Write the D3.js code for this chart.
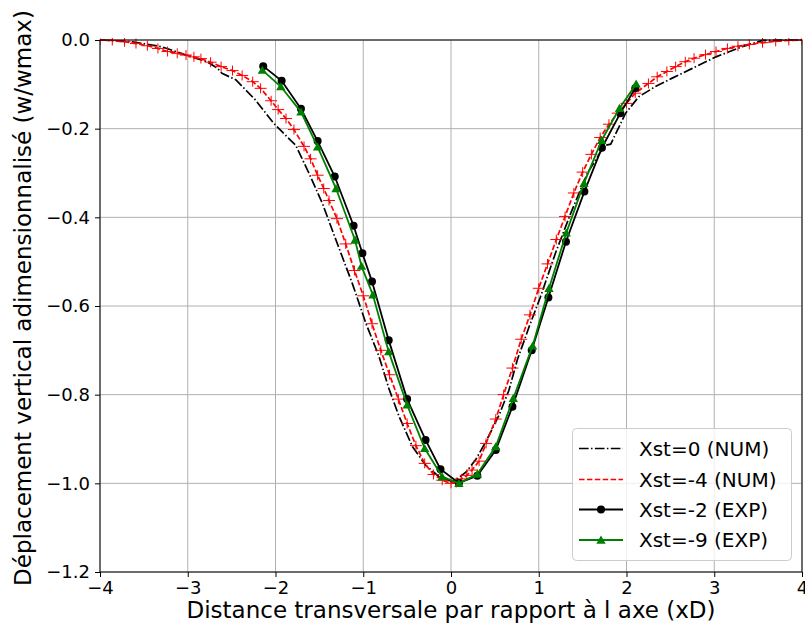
<!DOCTYPE html>
<html>
<head>
<meta charset="utf-8">
<script src="https://cdn.jsdelivr.net/npm/d3@7"></script>
<style>
  body { margin: 0; background: #fff; }
  svg { display: block; font-family: "DejaVu Sans", sans-serif; }
</style>
</head>
<body>
<svg id="chart" width="805" height="632"></svg>
<script>
// ---- data ----
const xTicks = [-4, -3, -2, -1, 0, 1, 2, 3, 4];
const yTicks = [0, -0.2, -0.4, -0.6, -0.8, -1.0, -1.2];

const num0X = [-4, -3.63, -3.3, -3.02, -2.78, -2.66, -2.61, -2.45, -2.23, -2.02, -1.83, -1.77, -1.62, -1.467, -1.296, -1.125, -0.97, -0.82, -0.71, -0.59, -0.44, -0.29, -0.137, 0.0, 0.05, 0.17, 0.28, 0.40, 0.55, 0.66, 0.755, 0.89, 1.02, 1.19, 1.364, 1.553, 1.75, 1.82, 1.99, 2.14, 2.33, 2.52, 2.75, 3.02, 3.32, 3.55, 4.0];
const num0Y = [0, -0.004, -0.015, -0.034, -0.049, -0.064, -0.075, -0.09, -0.135, -0.188, -0.226, -0.237, -0.30, -0.368, -0.459, -0.549, -0.639, -0.714, -0.785, -0.85, -0.917, -0.959, -0.985, -0.995, -0.993, -0.975, -0.947, -0.905, -0.845, -0.79, -0.722, -0.647, -0.579, -0.481, -0.391, -0.301, -0.238, -0.235, -0.165, -0.128, -0.105, -0.086, -0.064, -0.038, -0.015, -0.001, 0];

const num4X = [-4, -3.86, -3.72, -3.59, -3.46, -3.34, -3.23, -3.12, -3.02, -2.93, -2.85, -2.74, -2.62, -2.49, -2.38, -2.26, -2.17, -2.05, -1.97, -1.88, -1.79, -1.675, -1.6, -1.52, -1.45, -1.39, -1.3, -1.2, -1.1, -1.0, -0.9, -0.8, -0.7, -0.6, -0.5, -0.4, -0.3, -0.2, -0.1, 0.0, 0.06, 0.12, 0.18, 0.24, 0.32, 0.40, 0.51, 0.6, 0.7, 0.8, 0.9, 1.0, 1.1, 1.2, 1.3, 1.4, 1.5, 1.6, 1.7, 1.8, 1.9, 2.0, 2.1, 2.25, 2.35, 2.46, 2.56, 2.67, 2.77, 2.9, 3.02, 3.15, 3.27, 3.4, 3.55, 3.7, 3.85, 4.0];
const num4Y = [0, -0.001, -0.004, -0.008, -0.013, -0.019, -0.026, -0.030, -0.034, -0.038, -0.042, -0.050, -0.060, -0.069, -0.080, -0.094, -0.109, -0.137, -0.157, -0.177, -0.202, -0.240, -0.268, -0.305, -0.335, -0.362, -0.403, -0.46, -0.52, -0.577, -0.64, -0.70, -0.755, -0.81, -0.865, -0.915, -0.955, -0.98, -0.993, -1.0, -0.998, -0.99, -0.982, -0.97, -0.95, -0.91, -0.855, -0.80, -0.74, -0.675, -0.62, -0.56, -0.505, -0.45, -0.398, -0.345, -0.298, -0.258, -0.22, -0.19, -0.165, -0.143, -0.12, -0.098, -0.083, -0.071, -0.060, -0.049, -0.041, -0.033, -0.026, -0.019, -0.014, -0.010, -0.006, -0.003, -0.001, 0];

const exp2X = [-2.14, -1.93, -1.71, -1.52, -1.325, -1.11, -1.01, -0.90, -0.71, -0.50, -0.29, -0.12, 0.09, 0.30, 0.51, 0.70, 0.92, 1.11, 1.31, 1.52, 1.72, 1.93, 2.10];
const exp2Y = [-0.059, -0.092, -0.155, -0.228, -0.308, -0.419, -0.481, -0.545, -0.677, -0.81, -0.902, -0.968, -0.999, -0.983, -0.925, -0.827, -0.70, -0.581, -0.455, -0.342, -0.243, -0.165, -0.109];

const exp9X = [-2.15, -1.94, -1.71, -1.52, -1.31, -1.094, -1.02, -0.89, -0.71, -0.50, -0.30, -0.10, 0.09, 0.30, 0.51, 0.71, 0.93, 1.117, 1.314, 1.516, 1.717, 1.92, 2.11];
const exp9Y = [-0.068, -0.105, -0.162, -0.241, -0.335, -0.451, -0.51, -0.575, -0.703, -0.823, -0.921, -0.985, -1.0, -0.979, -0.917, -0.808, -0.69, -0.56, -0.435, -0.323, -0.226, -0.154, -0.099];

const seriesNames = ["Xst=0 (NUM)", "Xst=-4 (NUM)", "Xst=-2 (EXP)", "Xst=-9 (EXP)"];

// ---- layout ----
const svg = d3.select("#chart");
const L = 100, R = 802, T = 40, B = 572;
const x = d3.scaleLinear().domain([-4, 4]).range([L, R]);
const y = d3.scaleLinear().domain([-1.2, 0]).range([B, T]);

const zip = (xs, ys) => xs.map((v, i) => [v, ys[i]]);
const line = d3.line().x(d => x(d[0])).y(d => y(d[1]));

svg.append("defs").append("clipPath").attr("id", "clip")
  .append("rect").attr("x", L).attr("y", T - 2).attr("width", R - L).attr("height", B - T + 2);

// grid
const grid = svg.append("g");
grid.selectAll("line.gx").data(xTicks).join("line")
  .attr("x1", d => x(d)).attr("x2", d => x(d)).attr("y1", T).attr("y2", B)
  .attr("stroke", "#b0b0b0").attr("stroke-width", 1);
grid.selectAll("line.gy").data(yTicks).join("line")
  .attr("y1", d => y(d)).attr("y2", d => y(d)).attr("x1", L).attr("x2", R)
  .attr("stroke", "#b0b0b0").attr("stroke-width", 1);

// axes
const fmtY = d => d3.format(".1f")(d).replace("-", "\u2212");
const fmtX = d => String(d).replace("-", "\u2212");
const xAxis = svg.append("g").attr("transform", `translate(0,${B})`)
  .call(d3.axisBottom(x).tickValues(xTicks).tickFormat(fmtX).tickSize(5).tickPadding(4));
const yAxis = svg.append("g").attr("transform", `translate(${L},0)`)
  .call(d3.axisLeft(y).tickValues(yTicks).tickFormat(fmtY).tickSize(5).tickPadding(5));
[xAxis, yAxis].forEach(a => {
  a.select(".domain").remove();
  a.selectAll("text").attr("font-size", 18).attr("fill", "#000").attr("font-family", "DejaVu Sans");
  a.selectAll("line").attr("stroke", "#000").attr("stroke-width", 1);
});

// data lines
const plot = svg.append("g").attr("clip-path", "url(#clip)");
plot.append("path").datum(zip(num0X, num0Y)).attr("d", line)
  .attr("fill", "none").attr("stroke", "#000").attr("stroke-width", 1.7)
  .attr("stroke-dasharray", "9.6,2.4,1.5,2.4");

const num4 = zip(num4X, num4Y);
plot.append("path").datum(num4).attr("d", line)
  .attr("fill", "none").attr("stroke", "#ff0000").attr("stroke-width", 1.7)
  .attr("stroke-dasharray", "5.5,2.4");
plot.selectAll("path.plus").data(num4).join("path")
  .attr("d", d => `M${x(d[0]) - 6},${y(d[1])}H${x(d[0]) + 6}M${x(d[0])},${y(d[1]) - 5}V${y(d[1]) + 5}`)
  .attr("stroke", "#ff0000").attr("stroke-width", 1).attr("fill", "none");

const e2 = zip(exp2X, exp2Y);
plot.append("path").datum(e2).attr("d", line)
  .attr("fill", "none").attr("stroke", "#000").attr("stroke-width", 1.8);
plot.selectAll("circle.e2").data(e2).join("circle")
  .attr("cx", d => x(d[0])).attr("cy", d => y(d[1])).attr("r", 4).attr("fill", "#000");

const e9 = zip(exp9X, exp9Y);
const tri = d3.symbol().type(d3.symbolTriangle).size(38);
plot.append("path").datum(e9).attr("d", line)
  .attr("fill", "none").attr("stroke", "#008000").attr("stroke-width", 1.8);
plot.selectAll("path.e9").data(e9).join("path")
  .attr("d", tri).attr("transform", d => `translate(${x(d[0])},${y(d[1]) + 1})`).attr("fill", "#008000");

// frame
svg.append("rect").attr("x", L).attr("y", T).attr("width", R - L).attr("height", B - T)
  .attr("fill", "none").attr("stroke", "#000").attr("stroke-width", 1);

// axis labels
svg.append("text").attr("x", 451).attr("y", 618).attr("text-anchor", "middle")
  .attr("font-size", 23).text("Distance transversale par rapport à l axe (xD)");
svg.append("text").attr("transform", `translate(31,298) rotate(-90)`)
  .attr("text-anchor", "middle").attr("font-size", 23)
  .text("Déplacement vertical adimensionnalisé (w/wmax)");

// legend
const lg = svg.append("g");
lg.append("rect").attr("x", 572.5).attr("y", 428.5).attr("width", 219).attr("height", 132)
  .attr("rx", 4).attr("fill", "#fff").attr("fill-opacity", 0.8).attr("stroke", "#cccccc");
const rowsY = [448.5, 479.5, 509.5, 540];
const lx1 = 579, lx2 = 623;
lg.append("line").attr("x1", lx1).attr("x2", lx2).attr("y1", rowsY[0]).attr("y2", rowsY[0])
  .attr("stroke", "#000").attr("stroke-width", 1.7).attr("stroke-dasharray", "9.6,2.4,1.5,2.4");
lg.append("line").attr("x1", lx1).attr("x2", lx2).attr("y1", rowsY[1]).attr("y2", rowsY[1])
  .attr("stroke", "#ff0000").attr("stroke-width", 1.7).attr("stroke-dasharray", "5.5,2.4");
lg.append("line").attr("x1", lx1).attr("x2", lx2).attr("y1", rowsY[2]).attr("y2", rowsY[2])
  .attr("stroke", "#000").attr("stroke-width", 1.8);
lg.append("circle").attr("cx", (lx1 + lx2) / 2).attr("cy", rowsY[2]).attr("r", 4).attr("fill", "#000");
lg.append("line").attr("x1", lx1).attr("x2", lx2).attr("y1", rowsY[3]).attr("y2", rowsY[3])
  .attr("stroke", "#008000").attr("stroke-width", 1.8);
lg.append("path").attr("d", tri).attr("transform", `translate(${(lx1 + lx2) / 2},${rowsY[3] + 1})`).attr("fill", "#008000");
lg.selectAll("text").data(seriesNames).join("text")
  .attr("x", 639).attr("y", (d, i) => rowsY[i]).attr("dy", "0.35em")
  .attr("font-size", 20).text(d => d);
</script>
</body>
</html>
